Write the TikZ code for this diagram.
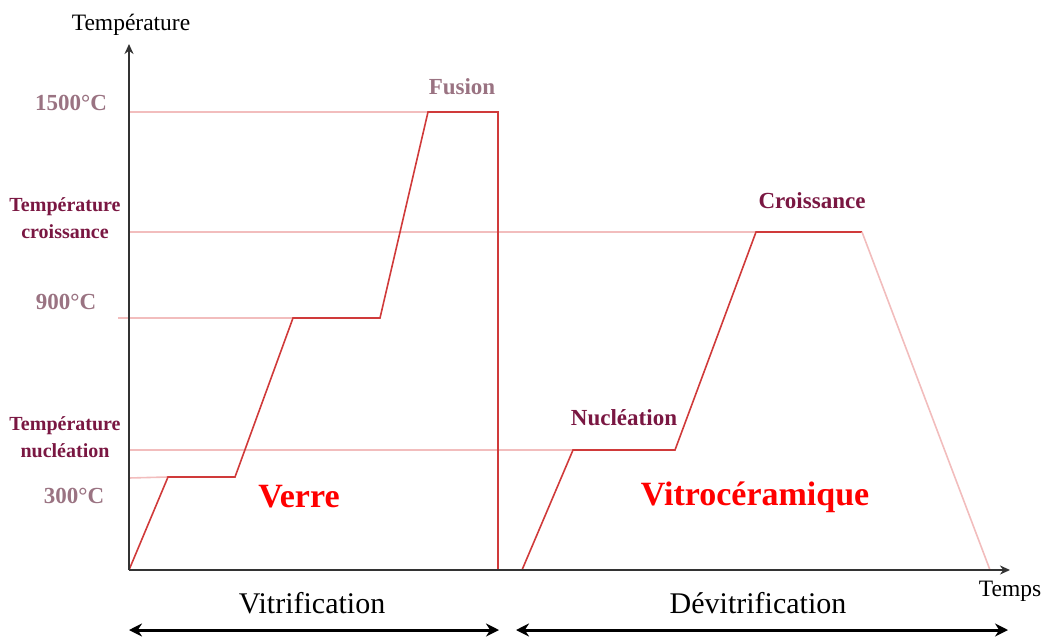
\documentclass[tikz,border=0pt]{standalone}
\usepackage{fontspec}
\setmainfont{Liberation Serif}
\usetikzlibrary{arrows.meta}
\definecolor{curvered}{HTML}{D03A3A}
\definecolor{guide}{HTML}{F2BDBD}
\definecolor{mauve}{HTML}{9A7382}
\definecolor{maroon}{HTML}{7A1742}
\definecolor{axisgray}{HTML}{333333}
\tikzset{
  axisline/.style={draw=axisgray, line width=2pt, -{Stealth[length=10pt,width=9pt]}},
  guideline/.style={draw=guide, line width=1.6pt},
  curveline/.style={draw=curvered, line width=1.6pt, line join=miter},
  fadeline/.style={draw=guide, line width=1.6pt},
  mauvelbl/.style={text=mauve, font=\fontsize{23}{26}\selectfont\bfseries, inner sep=0pt},
  maroonlbl/.style={text=maroon, font=\fontsize{20}{27}\selectfont\bfseries, inner sep=0pt, align=center},
  stagelbl/.style={text=maroon, font=\fontsize{23}{26}\selectfont\bfseries, inner sep=0pt},
  bigred/.style={text=red, font=\fontsize{34}{38}\selectfont\bfseries, inner sep=0pt},
  plainlbl/.style={text=black, font=\fontsize{23.5}{26}\selectfont, inner sep=0pt},
  phaselbl/.style={text=black, font=\fontsize{30}{34}\selectfont, inner sep=0pt},
  span/.style={draw=black, line width=3pt, {Stealth[length=13pt,width=13pt]}-{Stealth[length=13pt,width=13pt]}}
}
\begin{document}
\begin{tikzpicture}[x=1pt,y=-1pt]
\useasboundingbox (0,0) rectangle (1043,639);
% axes
\coordinate (O) at (129,570);
\coordinate (Ytop) at (129,44);
\coordinate (Xend) at (1010,570);
% guide lines
\coordinate (g1500) at (129,112);
\coordinate (gcro) at (129,232);
\coordinate (g900) at (118,318);
\coordinate (gnuc) at (129,450);
\coordinate (g300) at (129,478);
% curve 1
\coordinate (a1) at (168,477);
\coordinate (a2) at (235,477);
\coordinate (a3) at (293,318);
\coordinate (a4) at (380,318);
\coordinate (a5) at (428,112);
\coordinate (a6) at (498,112);
\coordinate (a7) at (498,570);
% curve 2
\coordinate (b0) at (522,570);
\coordinate (b1) at (573,450);
\coordinate (b2) at (675,450);
\coordinate (b3) at (756,232);
\coordinate (b4) at (862,232);
\coordinate (b5) at (990,570);

\draw[guideline] (g1500) -- (a5);
\draw[guideline] (gcro) -- (b3);
\draw[guideline] (g900) -- (a3);
\draw[guideline] (gnuc) -- (b1);
\draw[guideline] (g300) -- (a1);

\draw[curveline] (O) -- (a1) -- (a2) -- (a3) -- (a4) -- (a5) -- (a6) -- (a7);
\draw[curveline] (b0) -- (b1) -- (b2) -- (b3) -- (b4);
\draw[fadeline] (b4) -- (b5);

\draw[axisline] (O) -- (Ytop);
\draw[axisline] (O) -- (Xend);

% labels
\node[plainlbl] (ylab) at (131,25) {Température};
\node[plainlbl] (xlab) at (1010,591) {Temps};
\node[mauvelbl] (l1500) at (71,103) {1500°C};
\node[maroonlbl] (lcro) at (65,218) {Température\\croissance};
\node[mauvelbl] (l900) at (66,302) {900°C};
\node[maroonlbl] (lnuc) at (65,437) {Température\\nucléation};
\node[mauvelbl] (l300) at (74,496) {300°C};
\node[mauvelbl] (lfus) at (462,87) {Fusion};
\node[stagelbl] (lcroi) at (812,201) {Croissance};
\node[stagelbl] (lnucl) at (624,418) {Nucléation};
\node[bigred] (lverre) at (299,497) {Verre};
\node[bigred] (lvitro) at (755,497) {Vitrocéramique};
\node[phaselbl] (lvitri) at (312,603) {Vitrification};
\node[phaselbl] (ldevi) at (758,603) {Dévitrification};

% span arrows
\coordinate (s1l) at (129,630);
\coordinate (s1r) at (499,630);
\coordinate (s2l) at (516,630);
\coordinate (s2r) at (1008,630);
\draw[span] (s1l) -- (s1r);
\draw[span] (s2l) -- (s2r);
\end{tikzpicture}
\end{document}
